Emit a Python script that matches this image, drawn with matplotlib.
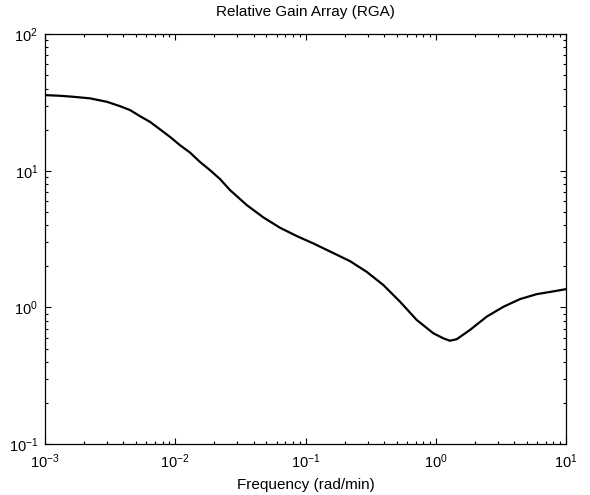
import numpy as np
import matplotlib.pyplot as plt

plt.rcParams['font.family'] = ['Liberation Sans', 'DejaVu Sans']
plt.rcParams['mathtext.fontset'] = 'custom'
plt.rcParams['mathtext.rm'] = 'Liberation Sans'
plt.rcParams['mathtext.it'] = 'Liberation Sans'

# frequency (rad/min) and RGA magnitude
freq = [0.00100, 0.00130, 0.00165, 0.00221, 0.00298, 0.00377, 0.00450, 0.00536,
        0.00640, 0.00764, 0.00912, 0.01086, 0.01297, 0.01549, 0.01849, 0.02208,
        0.02630, 0.03540, 0.04742, 0.06368, 0.08551, 0.1148, 0.1633, 0.2198,
        0.2951, 0.3954, 0.5321, 0.7145, 0.9572, 1.143, 1.285, 1.449, 1.832,
        2.460, 3.304, 4.436, 5.957, 7.998, 10.0]
rga = [35.8, 35.4, 34.8, 33.9, 32.0, 29.7, 27.8, 25.1,
       22.8, 20.1, 17.7, 15.4, 13.6, 11.6, 10.1, 8.69,
       7.23, 5.61, 4.56, 3.83, 3.33, 2.94, 2.50, 2.18,
       1.82, 1.46, 1.10, 0.809, 0.647, 0.594, 0.570, 0.585, 0.684,
       0.855, 1.01, 1.15, 1.25, 1.31, 1.36]

fig = plt.figure(figsize=(5.9, 4.95), dpi=100)
ax = fig.add_axes([0.0763, 0.103, 0.883, 0.828])

ax.loglog(freq, rga, color='black', linewidth=1.6)

ax.set_xlim(1e-3, 1e1)
ax.set_ylim(1e-1, 1e2)
ax.tick_params(which='both', direction='in', top=True, right=True, labelsize=10.5)
ax.tick_params(which='major', length=4, width=0.8)
ax.tick_params(which='minor', length=2.5, width=0.8)
ax.tick_params(axis='x', pad=6)
ax.tick_params(axis='y', pad=5)
for s in ax.spines.values():
    s.set_linewidth(0.9)

ax.set_xlabel('Frequency (rad/min)', fontsize=11, labelpad=5)
ax.set_title('Relative Gain Array (RGA)', fontsize=11, pad=13)

fig.savefig('out.png', dpi=100)
